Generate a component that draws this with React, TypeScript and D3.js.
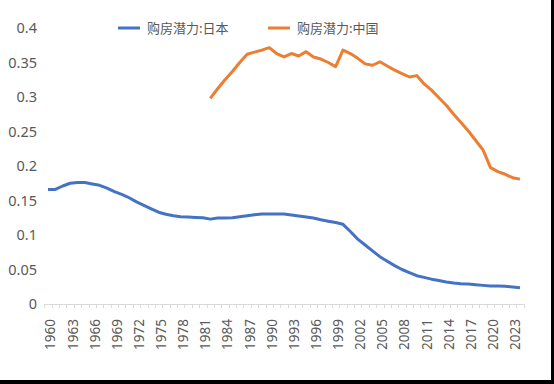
import * as d3 from "d3";
import { useEffect, useRef } from "react";

const years = d3.range(1960, 2025);
const chinaYears = d3.range(1982, 2025);

const japanValues = [
  0.166, 0.166, 0.171, 0.175, 0.176, 0.176, 0.174, 0.172, 0.168, 0.163,
  0.159, 0.154, 0.148, 0.143, 0.138, 0.133, 0.130, 0.128, 0.1266, 0.126,
  0.1255, 0.125, 0.123, 0.1245, 0.1245, 0.125, 0.1265, 0.128, 0.1295, 0.1304,
  0.1305, 0.1305, 0.1303, 0.129, 0.1275, 0.126, 0.1246, 0.122, 0.120, 0.118,
  0.1155, 0.105, 0.094, 0.0855, 0.077, 0.0686, 0.062, 0.0556, 0.050, 0.0454,
  0.041, 0.0386, 0.036, 0.034, 0.032, 0.0304, 0.0295, 0.029, 0.028, 0.027,
  0.026, 0.026, 0.0256, 0.0246, 0.0236,
];

const chinaValues = [
  0.298, 0.312, 0.325, 0.337, 0.350, 0.362, 0.365, 0.368, 0.3715, 0.363,
  0.358, 0.363, 0.3594, 0.3657, 0.358, 0.355, 0.350, 0.344, 0.368, 0.363,
  0.356, 0.348, 0.346, 0.351, 0.345, 0.339, 0.334, 0.329, 0.331, 0.319,
  0.310, 0.299, 0.288, 0.275, 0.263, 0.2507, 0.237, 0.223, 0.1976, 0.1918,
  0.188, 0.183, 0.181,
];

const yTicks = [0, 0.05, 0.1, 0.15, 0.2, 0.25, 0.3, 0.35, 0.4];
const xTickYears = d3.range(1960, 2024, 3);

const seriesNames = ["购房潜力:日本", "购房潜力:中国"];
const colors = ["#4472C4", "#ED7D31"];

const width = 554;
const height = 384;
const font = "'Noto Sans CJK SC', 'Noto Sans', sans-serif";
const numFont = "'Noto Sans', 'Noto Sans CJK SC', sans-serif";

export default function App() {
  const svgRef = useRef<SVGSVGElement>(null);

  useEffect(() => {
    if (!svgRef.current) return;
    const svg = d3.select(svgRef.current);
    svg.selectAll("*").remove();

    const x = d3.scaleLinear().domain([1960, 2024]).range([48, 520]);
    const y = d3.scaleLinear().domain([0, 0.4]).range([304, 28]);

    svg.append("rect").attr("width", width).attr("height", height).attr("fill", "#fff");

    // y labels
    svg.append("g")
      .selectAll("text")
      .data(yTicks)
      .enter()
      .append("text")
      .attr("x", 37)
      .attr("y", d => y(d))
      .attr("dy", "0.36em")
      .attr("text-anchor", "end")
      .attr("font-family", numFont)
      .attr("font-size", 14.5)
      .attr("fill", "#595959")
      .text(d => String(d));

    // x axis line + ticks between categories
    const axisG = svg.append("g");
    axisG.append("line")
      .attr("x1", x(1959.5)).attr("x2", x(2024.5))
      .attr("y1", y(0) + 0.5).attr("y2", y(0) + 0.5)
      .attr("stroke", "#d9d9d9").attr("stroke-width", 1);
    axisG.selectAll("line.tick")
      .data(d3.range(1959.5, 2025, 1))
      .enter()
      .append("line")
      .attr("class", "tick")
      .attr("x1", d => Math.round(x(d)) + 0.5).attr("x2", d => Math.round(x(d)) + 0.5)
      .attr("y1", y(0)).attr("y2", y(0) + 4)
      .attr("stroke", "#d9d9d9").attr("stroke-width", 1);

    axisG.selectAll("text")
      .data(xTickYears)
      .enter()
      .append("text")
      .attr("transform", d => `translate(${x(d) + 2.5},319) rotate(-90)`)
      .attr("dy", "0.36em")
      .attr("text-anchor", "end")
      .attr("font-family", numFont)
      .attr("font-size", 13.5)
      .attr("fill", "#595959")
      .text(d => String(d));

    const japanLine = d3.line<number>().x((_, i) => x(years[i])).y(d => y(d));
    const chinaLine = d3.line<number>().x((_, i) => x(chinaYears[i])).y(d => y(d));

    svg.append("path")
      .datum(japanValues)
      .attr("fill", "none")
      .attr("stroke", colors[0])
      .attr("stroke-width", 3)
      .attr("stroke-linejoin", "round")
      .attr("d", japanLine);

    svg.append("path")
      .datum(chinaValues)
      .attr("fill", "none")
      .attr("stroke", colors[1])
      .attr("stroke-width", 3)
      .attr("stroke-linejoin", "round")
      .attr("d", chinaLine);

    // legend
    const legendX = [118, 268];
    seriesNames.forEach((name, i) => {
      const g = svg.append("g").attr("transform", `translate(${legendX[i]},28)`);
      g.append("line").attr("x1", 0).attr("x2", 22).attr("y1", 0).attr("y2", 0)
        .attr("stroke", colors[i]).attr("stroke-width", 3);
      g.append("text").attr("x", 29).attr("dy", "0.36em")
        .attr("font-family", font).attr("font-size", 13)
        .attr("fill", "#595959")
        .text(name);
    });

    // black frame edges
    svg.append("rect").attr("x", 551).attr("y", 0).attr("width", 3).attr("height", height).attr("fill", "#000");
    svg.append("rect").attr("x", 0).attr("y", 380).attr("width", width).attr("height", 4).attr("fill", "#000");
  }, []);

  return (
    <svg
      ref={svgRef}
      width={width}
      height={height}
      style={{ position: "absolute", left: 0, top: 0, display: "block" }}
    />
  );
}
